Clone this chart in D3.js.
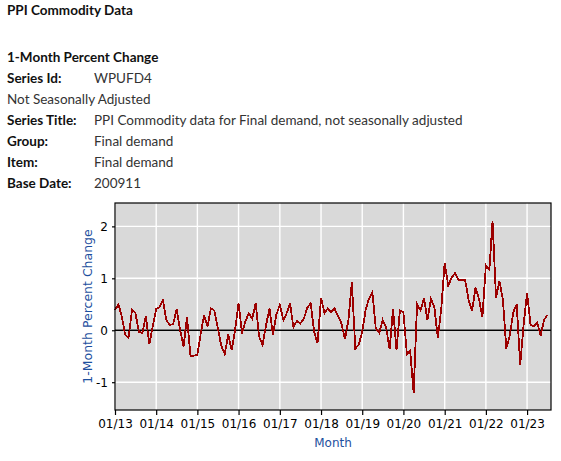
<!DOCTYPE html>
<html>
<head>
<meta charset="utf-8">
<script src="https://cdn.jsdelivr.net/npm/d3@7"></script>
<style>
body { margin: 0; background: #fff; }
</style>
</head>
<body>
<div id="chart-area"></div>
<script>
// header text
const pageTitle = "PPI Commodity Data";
const subTitle = "1-Month Percent Change";
const infoLabels = ["Series Id:", "Not Seasonally Adjusted", "Series Title:", "Group:", "Item:", "Base Date:"];
const infoValues = ["WPUFD4", "", "PPI Commodity data for Final demand, not seasonally adjusted", "Final demand", "Final demand", "200911"];

// monthly values, Jan 2013 .. Jul 2023
const startMonth = "2013-01";
const values = [
    0.39, 0.50, 0.27, -0.08, -0.15, 0.40, 0.33, -0.03, -0.05, 0.28, -0.27, 0.07,   // 2013
    0.41, 0.45, 0.58, 0.20, 0.10, 0.12, 0.41, 0.00, -0.31, 0.26, -0.49, -0.49,     // 2014
    -0.47, -0.05, 0.29, 0.07, 0.42, 0.38, 0.04, -0.30, -0.46, -0.08, -0.38, 0.00,  // 2015
    0.52, -0.06, 0.17, 0.33, 0.22, 0.52, -0.12, -0.28, 0.10, 0.42, -0.09, 0.30,    // 2016
    0.49, 0.20, 0.32, 0.52, 0.06, 0.18, 0.13, 0.22, 0.43, 0.52, -0.03, -0.25,      // 2017
    0.62, 0.33, 0.42, 0.35, 0.42, 0.27, 0.13, -0.17, 0.20, 0.92, -0.35, -0.28,     // 2018
    -0.03, 0.40, 0.60, 0.73, 0.04, -0.05, 0.20, 0.05, -0.36, 0.41, -0.38, 0.38,    // 2019
    0.35, -0.46, -0.40, -1.20, 0.50, 0.38, 0.62, 0.20, 0.60, 0.45, -0.15, 0.40,    // 2020
    1.30, 0.86, 1.00, 1.10, 0.97, 0.97, 0.97, 0.58, 0.38, 0.82, 0.60, 0.25,        // 2021
    1.25, 1.17, 2.10, 0.62, 0.95, 0.58, -0.35, -0.10, 0.35, 0.50, -0.67, 0.10,     // 2022
    0.72, 0.10, 0.08, 0.15, -0.10, 0.20, 0.30                                      // 2023
];
const yTicks = [-1, 0, 1, 2];
const yLabel = "1-Month Percent Change";
const xLabel = "Month";

const W = 561, H = 461;
const margin = {top: 203, right: 10, bottom: 51, left: 115},
    width = W - margin.left - margin.right,
    height = H - margin.top - margin.bottom;

const textFont = "Lato, 'Open Sans', sans-serif";
const axisFont = "'DejaVu Sans', sans-serif";

var svg = d3.select("#chart-area")
    .append("svg")
    .attr("width", W)
    .attr("height", H);

// header block
svg.append("text")
    .attr("x", 7).attr("y", 15)
    .style("font-family", textFont).style("font-size", "13.5px").style("font-weight", "bold")
    .attr("fill", "#111")
    .text(pageTitle);

svg.append("text")
    .attr("x", 7).attr("y", 61.5)
    .style("font-family", textFont).style("font-size", "13.5px").style("font-weight", "bold")
    .attr("fill", "#111")
    .text(subTitle);

var rows = svg.selectAll("g.info").data(infoLabels)
    .enter().append("g")
    .attr("class", "info")
    .attr("transform", (d, i) => `translate(7, ${82.5 + i * 21})`);

rows.append("text")
    .style("font-family", textFont).style("font-size", "13.5px")
    .style("font-weight", (d, i) => infoValues[i] ? "bold" : "normal")
    .attr("fill", (d, i) => infoValues[i] ? "#111" : "#333")
    .text(d => d);

rows.append("text")
    .attr("x", 87)
    .style("font-family", textFont).style("font-size", "13.5px")
    .attr("fill", "#333")
    .text((d, i) => infoValues[i]);

// chart
var parseMonth = d3.timeParse("%Y-%m");
var t0 = parseMonth(startMonth);
var data = values.map((v, i) => ({date: d3.timeMonth.offset(t0, i), value: v}));

var x = d3.scaleTime()
    .domain([t0, d3.timeMonth.offset(t0, values.length)])
    .range([0, width]);
var y = d3.scaleLinear()
    .domain([-1.535, 2.45])
    .range([height, 0]);

var g = svg.append("g")
    .attr("transform", `translate(${margin.left}, ${margin.top})`);

g.append("rect")
    .attr("width", width).attr("height", height)
    .attr("fill", "#d9d9d9");

// grid
var xTicks = d3.timeYear.range(t0, x.domain()[1]);
g.selectAll("line.vgrid").data(xTicks)
    .enter().append("line")
    .attr("class", "vgrid")
    .attr("x1", d => x(d)).attr("x2", d => x(d))
    .attr("y1", 0).attr("y2", height)
    .attr("stroke", "#fff").attr("stroke-width", 1.4);

g.selectAll("line.hgrid").data(yTicks)
    .enter().append("line")
    .attr("class", "hgrid")
    .attr("x1", 0).attr("x2", width)
    .attr("y1", d => y(d)).attr("y2", d => y(d))
    .attr("stroke", "#fff").attr("stroke-width", 1.4);

// zero line
g.append("line")
    .attr("x1", 0).attr("x2", width)
    .attr("y1", y(0)).attr("y2", y(0))
    .attr("stroke", "#000").attr("stroke-width", 1.3);

// series
var line = d3.line()
    .x(d => x(d.date))
    .y(d => y(d.value));

g.append("path")
    .datum(data)
    .attr("d", line)
    .attr("fill", "none")
    .attr("stroke", "#9c0000")
    .attr("stroke-width", 1.8)
    .attr("stroke-linejoin", "miter")
    .attr("shape-rendering", "crispEdges");

// frame
g.append("rect")
    .attr("width", width).attr("height", height)
    .attr("fill", "none")
    .attr("stroke", "#000").attr("stroke-width", 1.2);

// axes
var xAxis = g.append("g")
    .attr("transform", `translate(0, ${height})`)
    .call(d3.axisBottom(x).tickValues(xTicks).tickFormat(d3.timeFormat("%m/%y")).tickSize(5).tickPadding(4));

// plain hyphen for negatives, like the original
var yAxis = g.append("g")
    .call(d3.axisLeft(y).tickValues(yTicks).tickFormat(d => String(d)).tickSize(3).tickPadding(4));

[xAxis, yAxis].forEach(a => {
    a.select(".domain").remove();
    a.selectAll("text").style("font-family", axisFont).style("font-size", "12px").attr("fill", "#000");
    a.selectAll("line").attr("stroke", "#000").attr("stroke-width", 1.2);
});

// axis titles
svg.append("text")
    .attr("transform", `translate(91.5, ${margin.top + height / 2}) rotate(-90)`)
    .attr("text-anchor", "middle")
    .style("font-family", axisFont).style("font-size", "12.5px")
    .attr("fill", "#1d4f9e")
    .text(yLabel);

svg.append("text")
    .attr("x", margin.left + width / 2)
    .attr("y", 447)
    .attr("text-anchor", "middle")
    .style("font-family", axisFont).style("font-size", "12px")
    .attr("fill", "#1d4f9e")
    .text(xLabel);
</script>
</body>
</html>
